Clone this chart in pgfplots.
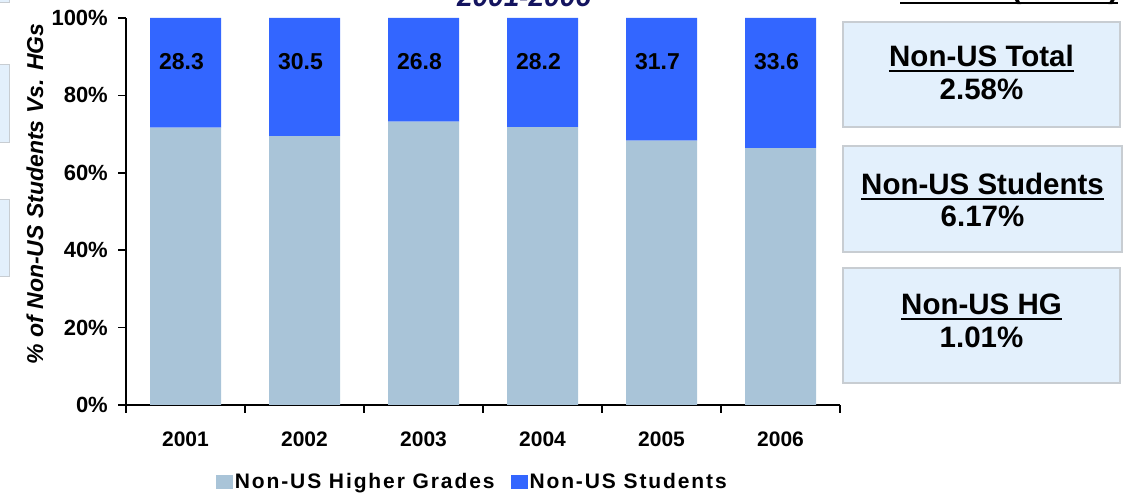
\documentclass[border=0pt]{standalone}
\usepackage{pgfplots}
\pgfplotsset{compat=1.18}
\usepackage{pgfplotstable}
\usepackage{fontspec}
\setmainfont{Liberation Sans}
\newfontfamily\legfont[LetterSpace=9]{Liberation Sans}
\definecolor{hgc}{HTML}{A9C4D8}
\definecolor{stc}{HTML}{3366FF}
\definecolor{boxfill}{HTML}{E3F0FC}
\definecolor{boxdraw}{HTML}{C8CDD2}
\definecolor{navy}{HTML}{14145F}
\pgfplotsset{sqlegend/.style={legend image code/.code={\fill[##1] (0bp,-7bp) rectangle (17bp,7bp);}}}
\newcommand{\fs}[1]{\fontsize{#1bp}{#1bp}\selectfont}
\pgfplotstableread{
x hg st
0 71.7 28.3
1 69.5 30.5
2 73.2 26.8
3 71.8 28.2
4 68.3 31.7
5 66.4 33.6
}\datatab
\begin{document}
\begin{tikzpicture}[x=1bp,y=1bp]
% cut-off boxes at the left
\draw[boxdraw, fill=boxfill, line width=1bp] (-60,491) rectangle (9,530);
\draw[boxdraw, fill=boxfill, line width=1bp] (-60,351) rectangle (9,429);
\draw[boxdraw, fill=boxfill, line width=1bp] (-60,217) rectangle (9,294);
% right boxes
\draw[boxdraw, fill=boxfill, line width=1.2bp] (843,367) rectangle (1120,472);
\draw[boxdraw, fill=boxfill, line width=1.2bp] (843,242) rectangle (1122,348);
\draw[boxdraw, fill=boxfill, line width=1.2bp] (843,111) rectangle (1120,226);
\begin{scope}[every node/.style={inner sep=0pt, font=\bfseries\fs{29.5}}]
\node (a1) [anchor=base] at (981.5,427) {Non-US Total};
\node [anchor=base] at (981.5,394) {2.58\%};
\node (a2) [anchor=base] at (982.5,299) {Non-US Students};
\node [anchor=base] at (982.5,267) {6.17\%};
\node (a3) [anchor=base] at (981.5,179) {Non-US HG};
\node [anchor=base] at (981.5,146) {1.01\%};
\node (g) [anchor=base west] at (900,495) {Growth (CAGR)};
\end{scope}
\foreach \n in {a1,a2,a3,g}{
  \draw[line width=2.5bp] ([yshift=-4bp]\n.base west) -- ([yshift=-4bp]\n.base east);
}
\node[anchor=base, inner sep=0pt, font=\bfseries\itshape\fs{28}, text=navy] at (524,487) {2001-2006};
\node[rotate=90, inner sep=0pt, font=\bfseries\itshape\fs{23}] at (35,300) {\% of Non-US Students Vs. HGs};
\begin{axis}[
  at={(126bp,89bp)}, anchor=south west,
  scale only axis, width=714bp, height=387bp,
  ybar stacked, bar width=71bp,
  xmin=-0.5, xmax=5.5, ymin=0, ymax=100,
  axis lines=left,
  axis line style={-, line width=1.5bp},
  xtick={-0.5,0.5,...,5.5},
  xticklabels={2001,2002,2003,2004,2005,2006,{}},
  xticklabel style={inner sep=0pt, xshift=59.5bp, yshift=-19bp, font=\bfseries\fs{21}},
  ytick={0,20,...,100},
  yticklabel={\bfseries\fs{22}\pgfmathprintnumber{\tick}\%},
  yticklabel style={inner sep=0pt, xshift=-10bp, font=\bfseries\fs{22}},
  /pgf/number format/assume math mode=true,
  tick align=outside,
  major tick length=8bp,
  tick style={line width=1.5bp, black},
  sqlegend,
  legend columns=2,
  legend style={at={(0.485,-0.199)}, anchor=center, draw=none, fill=none,
    font=\legfont\bfseries\fs{21},
    /tikz/every even column/.append style={column sep=14bp}},
]
\addplot[fill=hgc, draw=none] table[x=x, y=hg]{\datatab};
\addlegendentry{Non-US Higher Grades}
\addplot[fill=stc, draw=none,
  point meta=explicit,
  visualization depends on={\thisrow{hg} \as \hgval},
  nodes near coords={\pgfmathprintnumber[fixed,fixed zerofill,precision=1]{\pgfplotspointmeta}},
  every node near coord/.append style={anchor=center,
    yshift={(88.8-(\hgval+100)/2)*3.87*1.00375}, xshift=-4bp,
    font=\bfseries\fs{23}, text=black}
] table[x=x, y=st, meta=st]{\datatab};
\addlegendentry{Non-US Students}
\end{axis}
\pgfresetboundingbox
\path[use as bounding box] (0,0) rectangle (1126,494);
\end{tikzpicture}
\end{document}
